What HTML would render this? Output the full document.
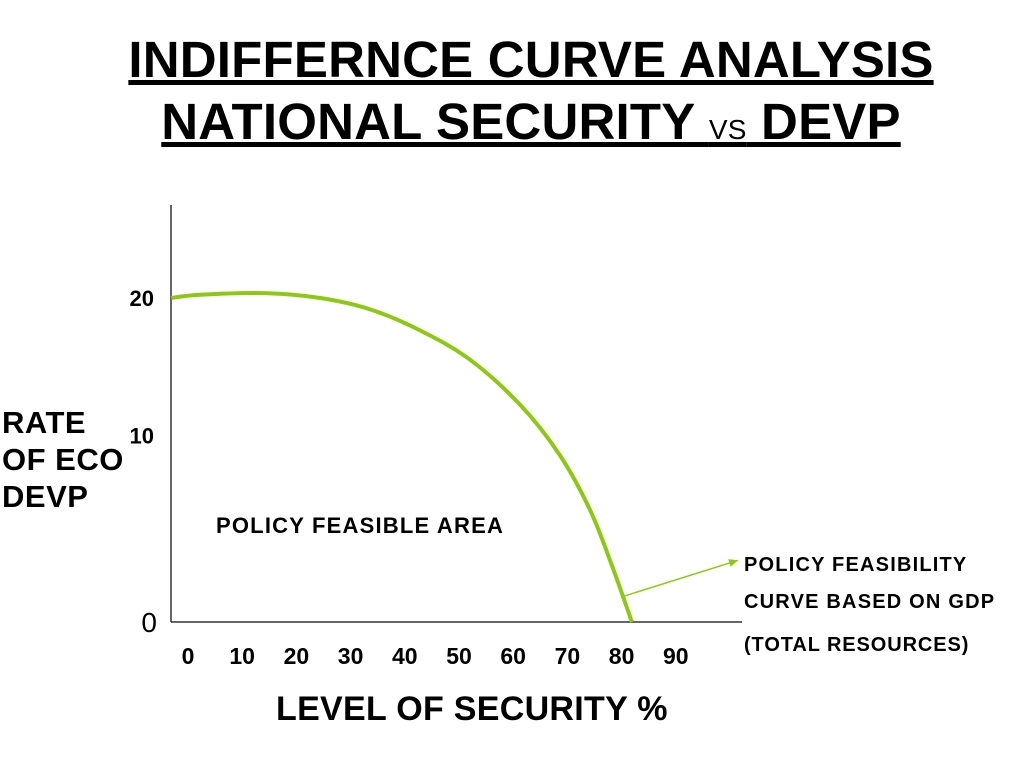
<!DOCTYPE html>
<html><head><meta charset="utf-8"><style>
body{margin:0;background:#fff;font-family:"Liberation Sans",sans-serif}
#c{position:relative;width:1024px;height:768px;overflow:hidden}
.t{position:absolute;font-weight:bold;color:#000;white-space:nowrap}
</style></head><body>
<div id="c">
<div class="t" style="left:0;width:1062px;text-align:center;top:30px;font-size:51px;text-decoration:underline;letter-spacing:0.2px">INDIFFERNCE CURVE ANALYSIS</div>
<div class="t" style="left:0;width:1062px;text-align:center;top:92px;font-size:51px;text-decoration:underline;letter-spacing:0.2px">NATIONAL SECURITY <span style="font-size:28px;font-weight:normal">VS</span> DEVP</div>
<div class="t" style="left:2px;top:404px;font-size:31px;line-height:37px;letter-spacing:0.5px">RATE<br>OF ECO<br>DEVP</div>
<div class="t" style="left:276px;top:690px;font-size:34px;letter-spacing:0.3px">LEVEL OF SECURITY %</div>
<div class="t" style="left:216px;top:513px;font-size:22px;letter-spacing:1.2px">POLICY FEASIBLE AREA</div>
<div class="t" style="left:744px;top:547px;font-size:20px;line-height:37px;letter-spacing:1.2px">POLICY FEASIBILITY<br>CURVE BASED ON GDP</div>
<div class="t" style="left:744px;top:634px;font-size:20px;letter-spacing:0.9px">(TOTAL RESOURCES)</div>
<svg id="s" width="1024" height="768" style="position:absolute;left:0;top:0"></svg>
</div>
<script>
const xTicks=[0,10,20,30,40,50,60,70,80,90];
const yTickLabels=["0","10","20"];
const yTickValues=[0,11.5,20];
const curveX=[-3.1,2.2,14.2,24.4,33.6,42.8,52.0,61.3,68.6,74.2,78.2,81.9];
const curveY=[20.0,20.2,20.3,20.0,19.3,18.0,16.2,13.4,10.3,6.9,3.5,0];
const arrowFrom=[80.5,1.6];
const arrowTo=[100,3.5];
const sx=v=>188+v*5.42, sy=v=>622-v*16.2;
const s=document.getElementById('s'),NS='http://www.w3.org/2000/svg';
function mk(t,a){const e=document.createElementNS(NS,t);for(const k in a)e.setAttribute(k,a[k]);s.appendChild(e);return e;}
let e=mk('line',{x1:171,y1:205,x2:171,y2:622,stroke:'#333','stroke-width':1.5});


e=mk('line',{x1:171,y1:622,x2:742,y2:622,stroke:'#333','stroke-width':1.5});


xTicks.forEach(v=>{const t=mk('text',{x:sx(v),y:664,'text-anchor':'middle','font-size':23,'font-weight':'bold','font-family':'Liberation Sans'});t.textContent=v;

});
yTickLabels.forEach((l,i)=>{const z=l==="0";const t=mk('text',{x:z?157:154,y:sy(yTickValues[i])+(z?10:8),'text-anchor':'end','font-size':z?28:22,'font-weight':z?'normal':'bold','font-family':'Liberation Sans'});t.textContent=l;

});
const P=curveX.map((x,i)=>[sx(x),sy(curveY[i])]);
let d='M'+P[0][0]+','+P[0][1];
for(let i=0;i<P.length-1;i++){const p0=P[i-1]||P[i],p1=P[i],p2=P[i+1],p3=P[i+2]||p2;
d+=` C${p1[0]+(p2[0]-p0[0])/6},${p1[1]+(p2[1]-p0[1])/6} ${p2[0]-(p3[0]-p1[0])/6},${p2[1]-(p3[1]-p1[1])/6} ${p2[0]},${p2[1]}`;}
e=mk('path',{d:d,fill:'none',stroke:'#8cc814','stroke-width':4});


const ax1=sx(arrowFrom[0]),ay1=sy(arrowFrom[1]),ax2=sx(arrowTo[0])+8,ay2=sy(arrowTo[1])-5;
e=mk('line',{x1:ax1,y1:ay1,x2:ax2,y2:ay2,stroke:'#8cc814','stroke-width':1.5});


const ang=Math.atan2(ay2-ay1,ax2-ax1),L=9,W=4;
e=mk('polygon',{points:`${ax2},${ay2} ${ax2-L*Math.cos(ang)+W*Math.sin(ang)},${ay2-L*Math.sin(ang)-W*Math.cos(ang)} ${ax2-L*Math.cos(ang)-W*Math.sin(ang)},${ay2-L*Math.sin(ang)+W*Math.cos(ang)}`,fill:'#8cc814'});


</script>
</body></html>
